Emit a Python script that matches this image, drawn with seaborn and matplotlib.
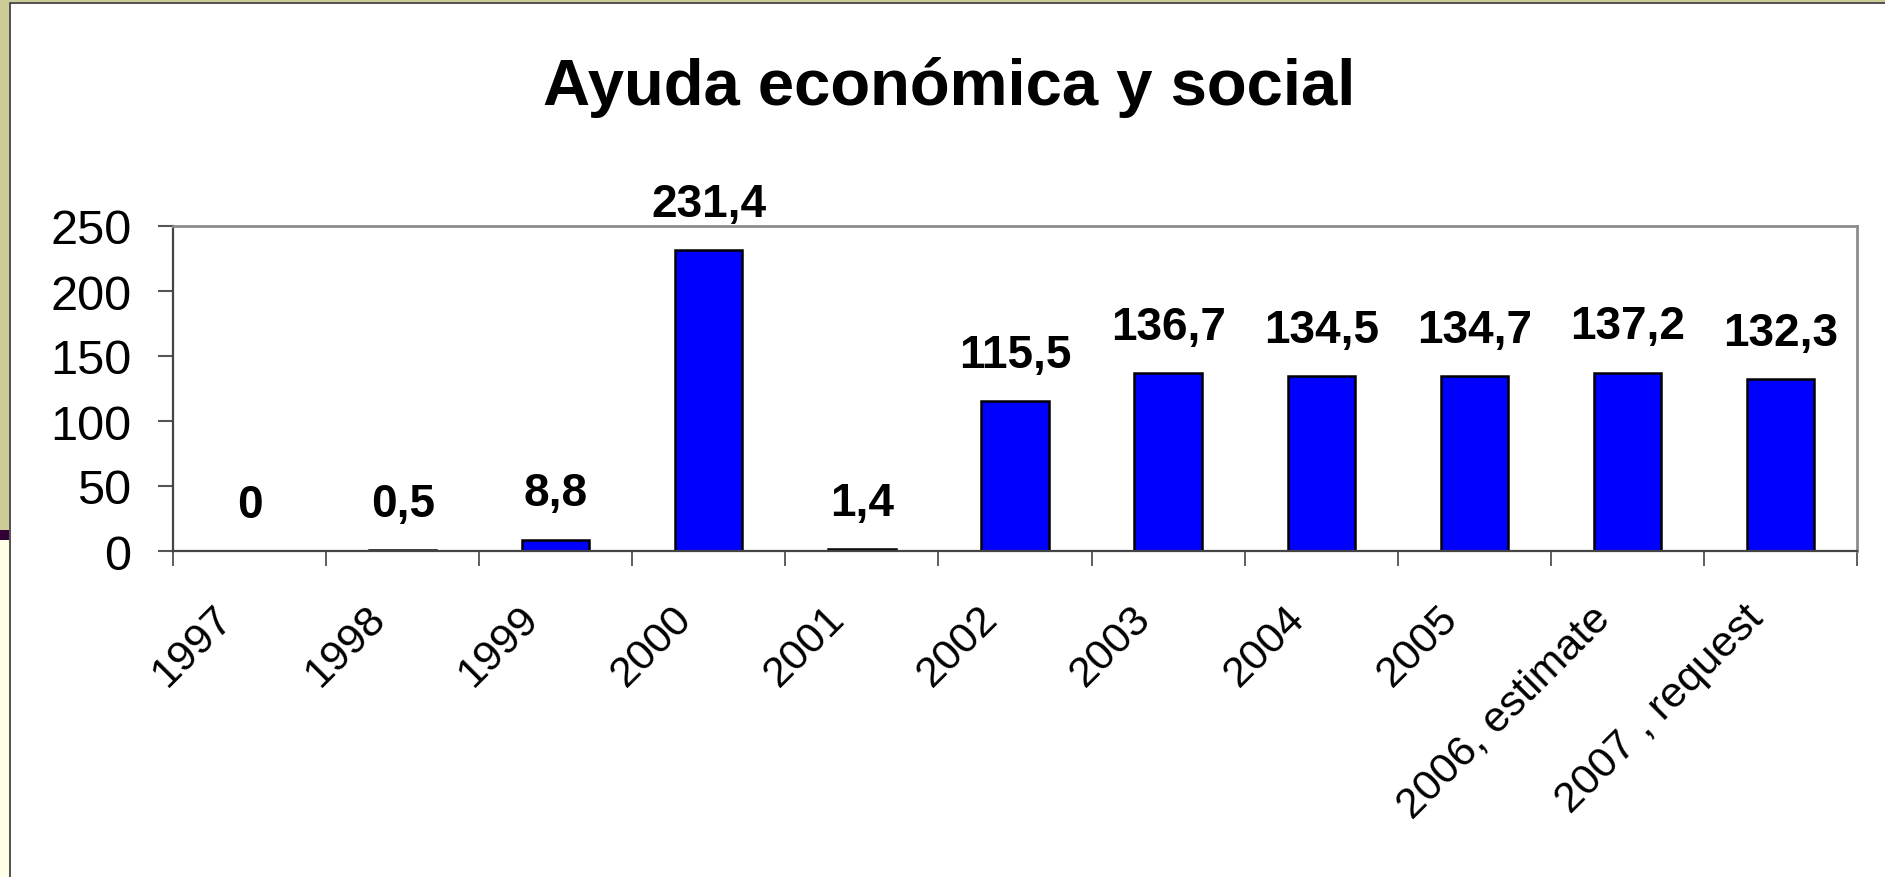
import numpy as np
import pandas as pd
import matplotlib
matplotlib.use("Agg")
import matplotlib.pyplot as plt
import matplotlib.transforms as mtransforms
import seaborn as sns
from matplotlib.patches import Rectangle

# datos del grafico
years = ["1997", "1998", "1999", "2000", "2001", "2002", "2003", "2004",
         "2005", "2006, estimate", "2007 , request"]
ayuda = [0, 0.5, 8.8, 231.4, 1.4, 115.5, 136.7, 134.5, 134.7, 137.2, 132.3]
y_ticks = [0, 50, 100, 150, 200, 250]
titulo = "Ayuda económica y social"

plt.rcParams['font.family'] = ['Liberation Sans', 'DejaVu Sans']

W, H = 1885, 878
fig = plt.figure(figsize=(W / 100, H / 100), dpi=100)
fig.patch.set_facecolor("white")

# marco de la diapositiva (franja lateral)
def px(x0, y0, x1, y1, **kw):
    r = Rectangle((x0 / W, 1 - y1 / H), (x1 - x0) / W, (y1 - y0) / H,
                  transform=fig.transFigure, **kw)
    fig.add_artist(r)

px(0, 0, W, 3, facecolor="#cccc99", edgecolor="none")
px(0, 0, 9, 531, facecolor="#cccc99", edgecolor="none")
px(0, 531, 9, 541, facecolor="#330033", edgecolor="none")
px(0, 541, 9, H, facecolor="#ffffe5", edgecolor="none")
px(9.5, 3.5, W + 5, H + 5, facecolor="none", edgecolor="#333333", linewidth=1.2)

ax = fig.add_axes([173 / W, 1 - 552 / H, (1857 - 173) / W, (552 - 227) / H])

df = pd.DataFrame({"year": years, "ayuda": ayuda})
sns.barplot(data=df, x="year", y="ayuda", color="#0000ff", saturation=1,
            edgecolor="black", linewidth=1.8, width=0.44, ax=ax)

labels = [f"{v:g}".replace(".", ",") for v in ayuda]
ax.bar_label(ax.containers[0], labels=labels, padding=17.5,
             fontsize=33, fontweight="bold")

ax.set_ylim(0, 250)
ax.set_xlim(-0.5, len(years) - 0.5)
ax.set_yticks(y_ticks)
ax.set_xlabel("")
ax.set_ylabel("")

# ticks en los limites de categoria, como en Excel
ax.set_xticks(np.arange(-0.5, len(years), 1.0), minor=True)
ax.tick_params(axis="x", which="minor", direction="out", length=11,
               width=1.2, color="#444444")
ax.tick_params(axis="x", which="major", length=0, pad=47, labelsize=31)
ax.tick_params(axis="y", direction="out", length=11, width=1.5,
               color="#555555", pad=19, labelsize=35)
shift = mtransforms.ScaledTranslation(-0.23, 0.05, fig.dpi_scale_trans)
for lab in ax.get_xticklabels():
    lab.set_rotation(45)
    lab.set_ha("right")
    lab.set_va("center")
    lab.set_rotation_mode("anchor")
    lab.set_transform(lab.get_transform() + shift)

for s in ["left", "bottom"]:
    ax.spines[s].set_color("#444444")
    ax.spines[s].set_linewidth(1.6)
for s in ["top", "right"]:
    ax.spines[s].set_color("#8c8c8c")
    ax.spines[s].set_linewidth(2)

fig.text(949 / W, 1 - 105 / H, titulo, ha="center", va="baseline",
         fontsize=47, fontweight="bold")

fig.savefig("out.png", dpi=100)
